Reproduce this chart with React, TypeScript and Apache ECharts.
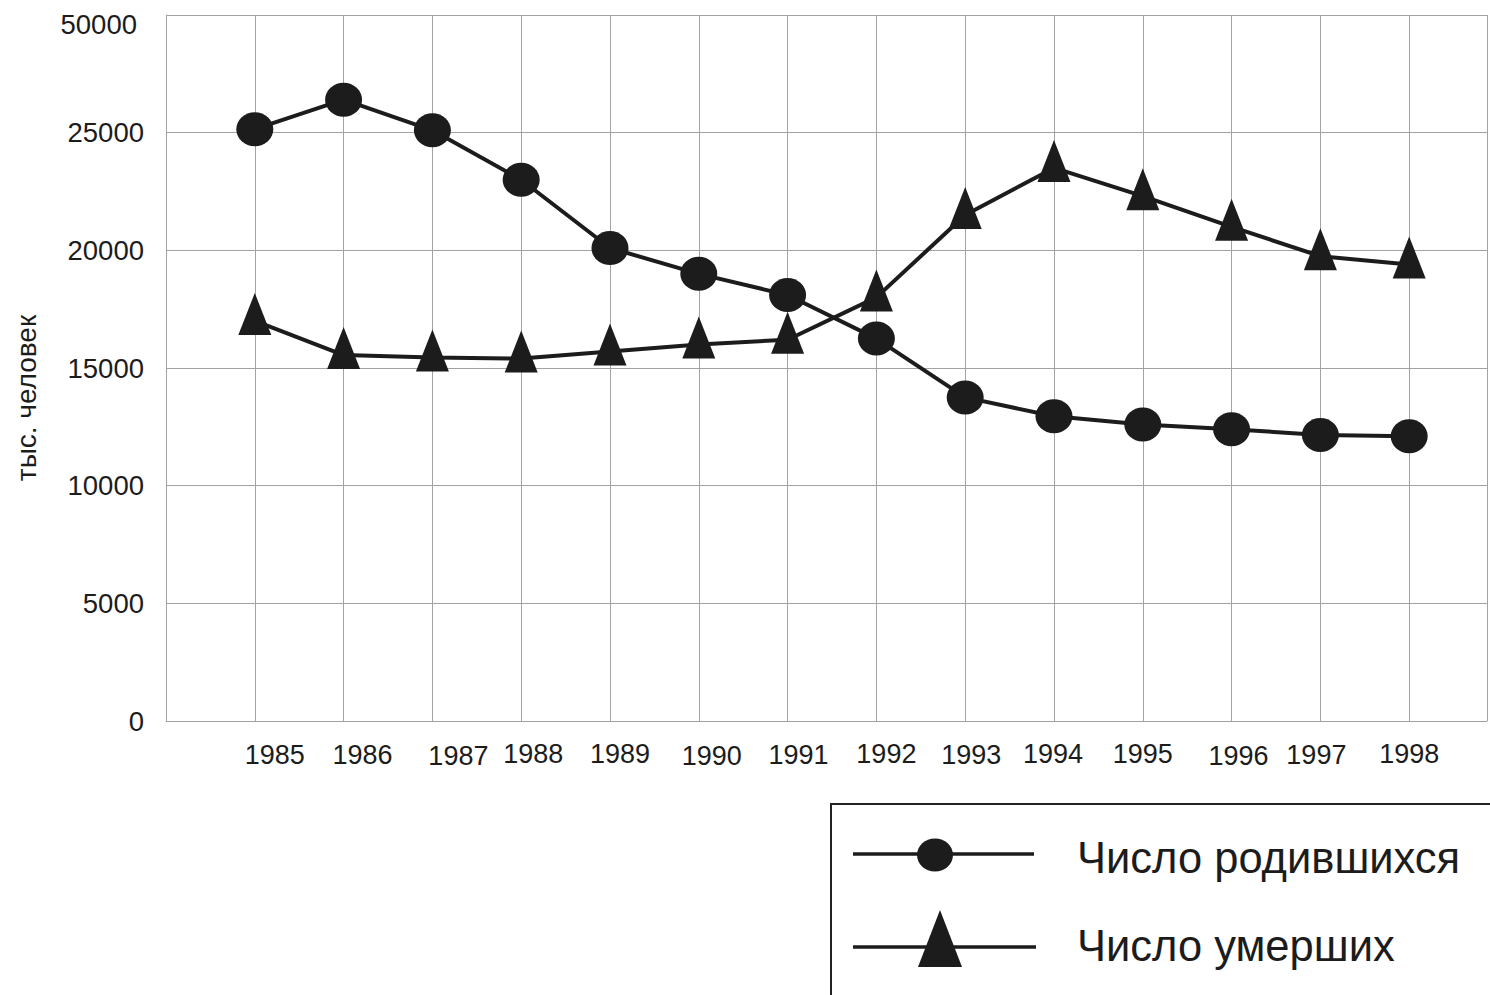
import React, { useEffect, useRef } from "react";
import * as echarts from "echarts";

// ---- data ----
const years = [1985, 1986, 1987, 1988, 1989, 1990, 1991, 1992, 1993, 1994, 1995, 1996, 1997, 1998];
const births = [25150, 26400, 25100, 23000, 20100, 19000, 18100, 16250, 13750, 12950, 12600, 12400, 12150, 12100];
const deaths = [17000, 15550, 15450, 15400, 15700, 16000, 16200, 18000, 21500, 23500, 22300, 21000, 19750, 19400];
const seriesNames = ["Число родившихся", "Число умерших"];
const yTickLabels = ["0", "5000", "10000", "15000", "20000", "25000", "50000"];
const yAxisTitle = "тыс. человек";

// ---- layout offsets of the x tick labels (dx, dy in px) ----
const xLabelDx = [20, 19, 26, 12, 10, 13, 11, 10, 6, -1, 0, 7, -4, 0];
const xLabelDy = [2, 2, 4, 0, 0, 4, 2, 1, 3, 1, 1, 4, 2, 0];

const FONT = '"Liberation Sans", Arial, Helvetica, sans-serif';
const INK = "#1c1c1c";
const GRID = "#a3a3a3";

const ellipsePath =
  "path://M1,0 C1.552,0 2,0.448 2,1 C2,1.552 1.552,2 1,2 C0.448,2 0,1.552 0,1 C0,0.448 0.448,0 1,0 Z";

export default function App() {
  const ref = useRef<HTMLDivElement>(null);

  useEffect(() => {
    if (!ref.current) return;
    const chart = echarts.init(ref.current, null, { renderer: "svg" });

    const xRich: Record<string, any> = {};
    years.forEach((_, i) => {
      const dx = xLabelDx[i];
      xRich["k" + i] = {
        fontSize: 27,
        fontFamily: FONT,
        color: INK,
        lineHeight: 27,
        padding: [xLabelDy[i], dx < 0 ? -2 * dx : 0, 0, dx > 0 ? 2 * dx : 0],
      };
    });

    const gridLeft = 166;
    const spacing = 89;
    const xMax = 1984 + (1490 - gridLeft) / spacing;

    const option: any = {
      animation: false,
      backgroundColor: "#ffffff",
      grid: { left: gridLeft, right: 0, top: 15, bottom: 274, containLabel: false },
      xAxis: {
        type: "value",
        min: 1984,
        max: xMax,
        interval: 1,
        axisLine: { show: true, lineStyle: { color: GRID, width: 1 } },
        axisTick: { show: false },
        splitLine: { show: true, lineStyle: { color: GRID, width: 1 } },
        axisLabel: {
          margin: 19,
          fontSize: 27,
          fontFamily: FONT,
          color: INK,
          showMinLabel: true,
          showMaxLabel: true,
          formatter: (v: number) => {
            const i = years.indexOf(Math.round(v * 1000) / 1000);
            return i < 0 ? "" : `{k${i}|${years[i]}}`;
          },
          rich: xRich,
        },
      },
      yAxis: {
        type: "value",
        min: 0,
        max: 30000,
        interval: 5000,
        axisLine: { show: true, lineStyle: { color: GRID, width: 1 } },
        axisTick: { show: false },
        splitLine: { show: true, lineStyle: { color: GRID, width: 1 } },
        axisLabel: {
          margin: 22,
          fontSize: 27.5,
          fontFamily: FONT,
          color: INK,
          formatter: (v: number) => {
            const i = Math.round(v / 5000);
            const s = yTickLabels[i] ?? "";
            return i === yTickLabels.length - 1 ? `{top|${s}}` : s;
          },
          rich: {
            top: { fontSize: 27.5, fontFamily: FONT, color: INK, padding: [18, 7, 0, 0] },
          },
        },
      },
      series: [
        {
          name: seriesNames[0],
          type: "line",
          data: years.map((y, i) => [y, births[i]]),
          symbol: ellipsePath,
          symbolSize: [37, 34],
          lineStyle: { color: INK, width: 4 },
          itemStyle: { color: INK },
          z: 3,
        },
        {
          name: seriesNames[1],
          type: "line",
          data: years.map((y, i) => [y, deaths[i]]),
          symbol: "triangle",
          symbolSize: [33, 42],
          symbolOffset: [0, -7],
          lineStyle: { color: INK, width: 4 },
          itemStyle: { color: INK },
          z: 2,
        },
      ],
      graphic: [
        {
          type: "text",
          x: 26,
          y: 398,
          rotation: Math.PI / 2,
          style: {
            text: yAxisTitle,
            fontSize: 28,
            fontFamily: FONT,
            fill: INK,
            align: "center",
            verticalAlign: "middle",
            textAlign: "center",
            textVerticalAlign: "middle",
          },
        },
        {
          type: "rect",
          shape: { x: 831, y: 804, width: 700, height: 300 },
          style: { fill: "#ffffff", stroke: "#222222", lineWidth: 2 },
        },
        {
          type: "line",
          shape: { x1: 853, y1: 854, x2: 1034, y2: 854 },
          style: { stroke: INK, lineWidth: 3.5 },
        },
        {
          type: "ellipse",
          shape: { cx: 935, cy: 855, rx: 18, ry: 16.5 },
          style: { fill: INK },
        },
        {
          type: "line",
          shape: { x1: 853, y1: 947, x2: 1036, y2: 947 },
          style: { stroke: INK, lineWidth: 3.5 },
        },
        {
          type: "polygon",
          shape: { points: [[940, 910], [918, 967], [962, 967]] },
          style: { fill: INK },
        },
        {
          type: "text",
          x: 1077,
          y: 858,
          style: {
            text: seriesNames[0],
            fontSize: 43.5,
            fontFamily: FONT,
            fill: INK,
            align: "left",
            verticalAlign: "middle",
            textAlign: "left",
            textVerticalAlign: "middle",
          },
        },
        {
          type: "text",
          x: 1077,
          y: 946,
          style: {
            text: seriesNames[1],
            fontSize: 43.5,
            fontFamily: FONT,
            fill: INK,
            align: "left",
            verticalAlign: "middle",
            textAlign: "left",
            textVerticalAlign: "middle",
          },
        },
      ],
    };

    chart.setOption(option);
    return () => chart.dispose();
  }, []);

  return (
    <div
      ref={ref}
      style={{ position: "fixed", left: 0, top: 0, width: 1490, height: 995, background: "#fff" }}
    />
  );
}
